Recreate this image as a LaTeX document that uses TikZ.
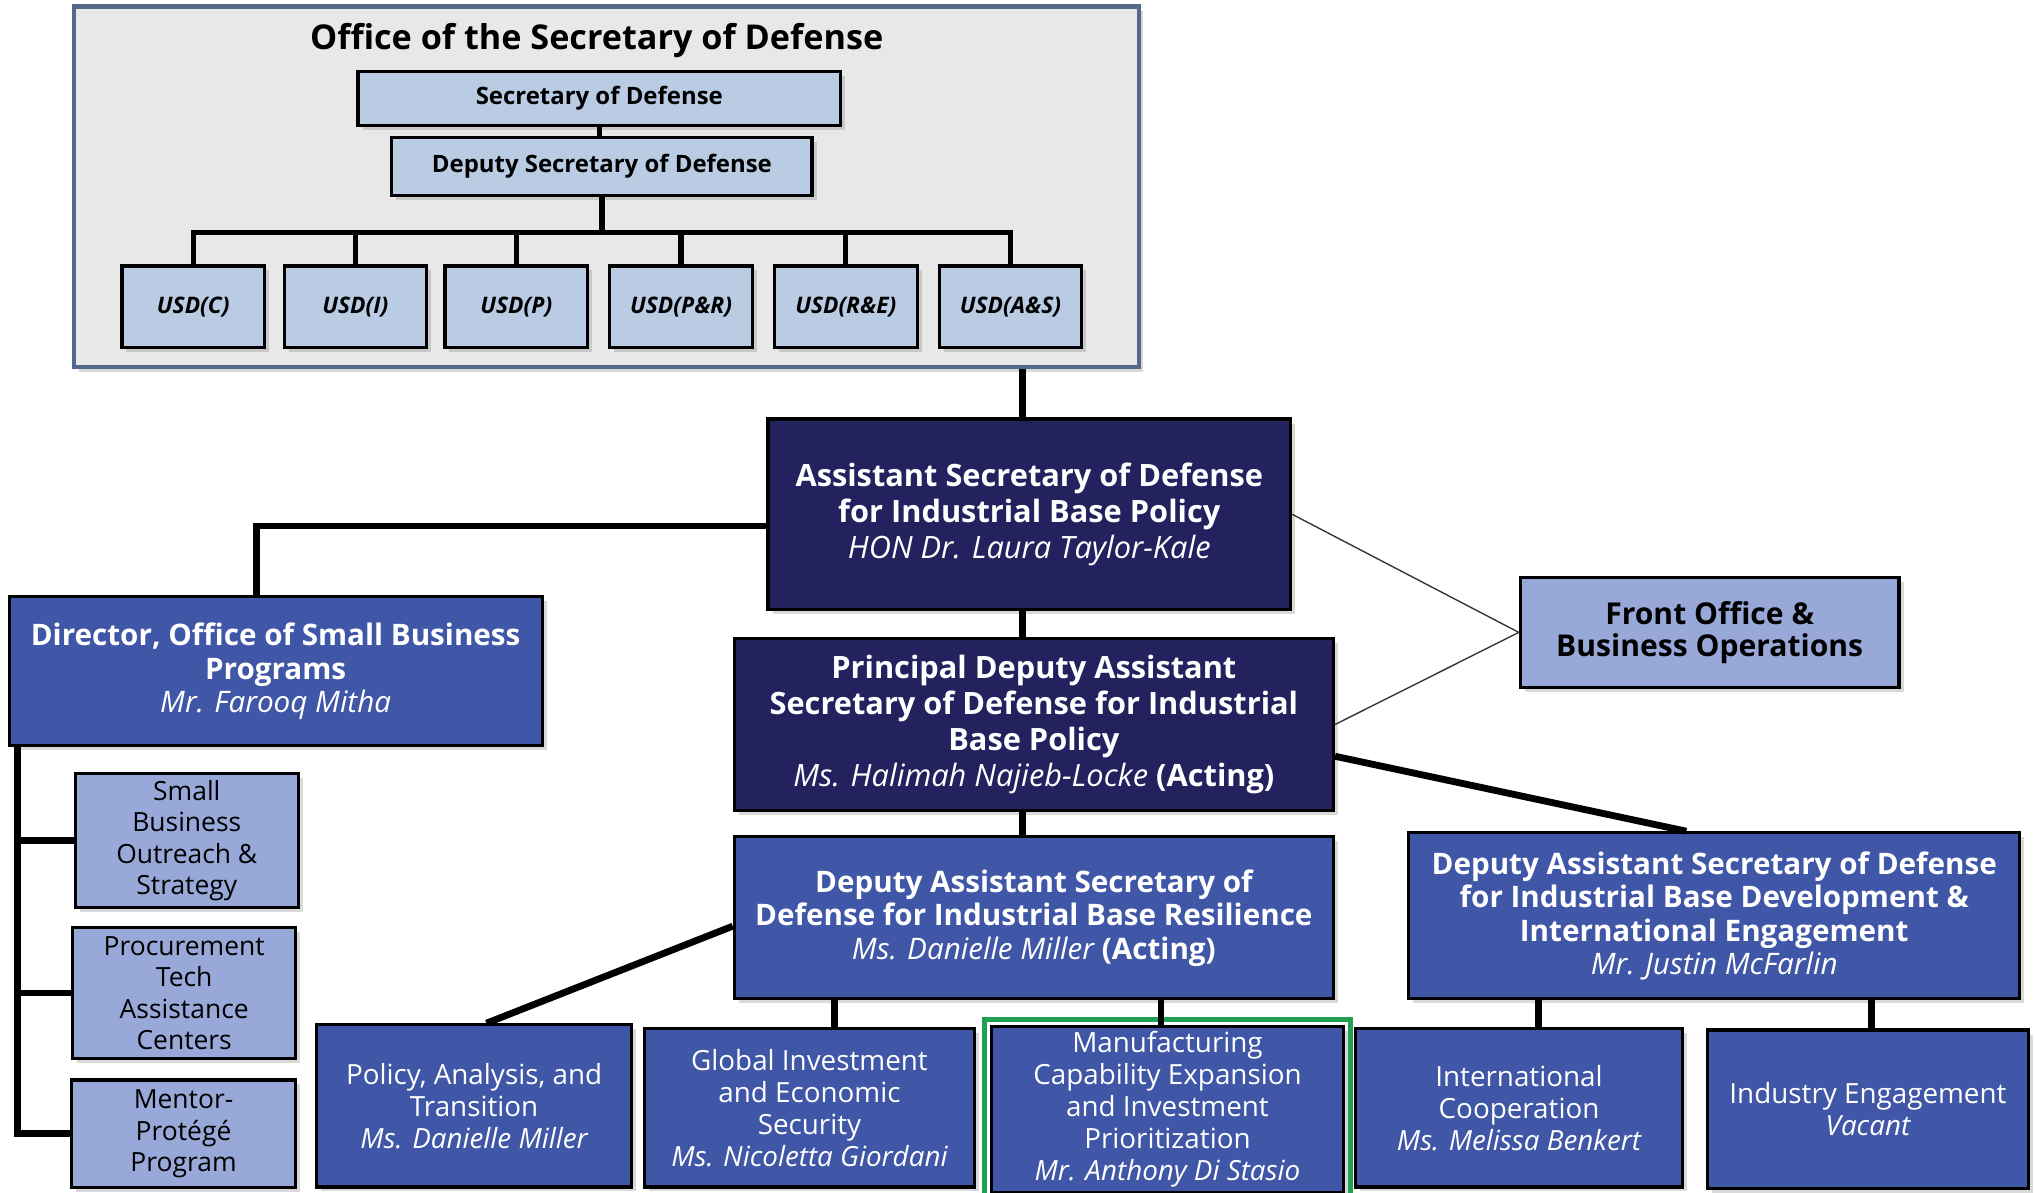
\documentclass[tikz,border=0pt]{standalone}
\usepackage{fontspec}
\setmainfont{Open Sans}
\usetikzlibrary{%
  positioning
 ,calc
 ,shadows
}
\definecolor{navy}{RGB}{35,33,94}
\definecolor{midblue}{RGB}{64,86,166}
\definecolor{liteblue}{RGB}{152,168,216}
\definecolor{paleblue}{RGB}{186,204,228}
\definecolor{osdgrey}{RGB}{232,232,232}
\definecolor{osdedge}{RGB}{84,104,140}
\definecolor{mfggreen}{RGB}{32,160,84}
\tikzstyle{bx}=[rectangle,draw=black,line width=1.4pt,align=center,inner sep=0pt,
  drop shadow={shadow xshift=0.07cm,shadow yshift=-0.07cm,opacity=0.3}]
\tikzstyle{osdframe}=[rectangle,fill=osdgrey,draw=osdedge,line width=2pt,
  drop shadow={shadow xshift=0.07cm,shadow yshift=-0.07cm,opacity=0.3}]
\tikzstyle{sbx}=[bx,fill=paleblue,font=\bfseries\fontsize{10.5}{12}\selectfont]
\tikzstyle{ubx}=[bx,fill=paleblue,minimum width=2.2cm,minimum height=1.26cm,
  font=\bfseries\itshape\fontsize{10}{11}\selectfont]
\tikzstyle{dk}=[bx,fill=navy,text=white,font=\bfseries\fontsize{13.5}{15.8}\selectfont]
\tikzstyle{md}=[bx,fill=midblue,text=white,font=\bfseries\fontsize{13}{14.7}\selectfont]
\tikzstyle{unit}=[bx,fill=midblue,text=white,font=\fontsize{12.2}{14}\selectfont]
\tikzstyle{lt}=[bx,fill=liteblue,text=black,font=\fontsize{11.6}{13.8}\selectfont]
\tikzstyle{con}=[draw=black,line width=2.3pt,line cap=rect]
\tikzstyle{mc}=[draw=black,line width=3pt]
\tikzstyle{fine}=[draw=black!80,line width=0.6pt]
\tikzstyle{hilite}=[draw=mfggreen,line width=2.2pt]
\newcommand{\nm}[1]{{\mdseries\itshape #1}}

\begin{document}
\begin{tikzpicture}[x=0.02cm,y=-0.02cm]
  \useasboundingbox (0,0) rectangle (1568,919);
  % office of the secretary
  \node[osdframe,minimum width=16.42cm,minimum height=5.56cm] (osd) at (467.5,144) {};
  \node[font=\bfseries\fontsize{15}{17}\selectfont] (osd_t) at (460,31) {Office of the Secretary of Defense};
  \node[sbx,minimum width=7.44cm,minimum height=0.84cm] (sec) at (462,76) {Secretary of Defense};
  \node[sbx,minimum width=6.48cm,minimum height=0.9cm] (dep) at (464,128.5) {Deputy Secretary of Defense};
  \node[ubx] (u_c) at (149,236.5) {USD(C)};
  \node[ubx] (u_i) at (274,236.5) {USD(I)};
  \node[ubx] (u_p) at (398,236.5) {USD(P)};
  \node[ubx] (u_pr) at (525,236.5) {USD(P\&R)};
  \node[ubx] (u_re) at (652,236.5) {USD(R\&E)};
  \node[ubx] (u_as) at (779,236.5) {USD(A\&S)};
  \draw[con] (sec.south) -- (sec.south |- dep.north);
  \draw[con] (dep.south) -- ++(0,27) coordinate (bus);
  \draw[con] (bus -| u_c.north) -- (bus -| u_as.north);
  \foreach \u in {u_c,u_i,u_p,u_pr,u_re,u_as}
    \draw[con] (\u.north) -- (\u.north |- bus);

  % industrial base policy
  \node[dk,minimum width=8.06cm,minimum height=2.94cm] (asd) at (793.5,396.5)
    {Assistant Secretary of Defense\\for Industrial Base Policy\\\nm{HON Dr. Laura Taylor-Kale}};
  \node[dk,minimum width=9.24cm,minimum height=2.66cm] (pdasd) at (797,558.5)
    {Principal Deputy Assistant\\Secretary of Defense for Industrial\\Base Policy\\\nm{Ms. Halimah Najieb-Locke} (Acting)};
  \node[lt,font=\bfseries\fontsize{13.2}{14.2}\selectfont,minimum width=5.84cm,minimum height=1.7cm] (fo) at (1318,487.5)
    {Front Office \&\\Business Operations};
  \node[md,minimum width=8.22cm,minimum height=2.3cm] (dir) at (212.5,517.5)
    {Director, Office of Small Business\\Programs\\\nm{Mr. Farooq Mitha}};
  \node[lt,minimum width=3.44cm,minimum height=2.06cm] (sb_1) at (144,648) {Small\\Business\\Outreach \&\\Strategy};
  \node[lt,minimum width=3.44cm,minimum height=2.02cm] (sb_2) at (142,765.5) {Procurement\\Tech\\Assistance\\Centers};
  \node[lt,minimum width=3.46cm,minimum height=1.66cm] (sb_3) at (141.5,874) {Mentor-\\Protégé\\Program};
  \node[md,minimum width=9.24cm,minimum height=2.5cm] (ibr) at (797,707.5)
    {Deputy Assistant Secretary of\\Defense for Industrial Base Resilience\\\nm{Ms. Danielle Miller} (Acting)};
  \node[md,minimum width=9.42cm,minimum height=2.56cm] (ibd) at (1321.5,706)
    {Deputy Assistant Secretary of Defense\\for Industrial Base Development \&\\International Engagement\\\nm{Mr. Justin McFarlin}};
  \node[unit,minimum width=4.86cm,minimum height=2.5cm] (pol) at (365.5,852.5)
    {Policy, Analysis, and\\Transition\\\nm{Ms. Danielle Miller}};
  \node[unit,minimum width=5.08cm,minimum height=2.44cm] (glob) at (624,854)
    {Global Investment\\and Economic\\Security\\\nm{Ms. Nicoletta Giordani}};
  \node[unit,minimum width=5.44cm,minimum height=2.56cm] (mfg) at (900,855)
    {Manufacturing\\Capability Expansion\\and Investment\\Prioritization\\\nm{Mr. Anthony Di Stasio}};
  \draw[hilite] ([shift={(-4,-4)}]mfg.north west) rectangle ([shift={(4,4)}]mfg.south east);
  \node[unit,minimum width=5.04cm,minimum height=2.44cm] (intl) at (1171,854)
    {International\\Cooperation\\\nm{Ms. Melissa Benkert}};
  \node[unit,minimum width=4.96cm,minimum height=2.44cm] (ind) at (1440,855)
    {Industry Engagement\\\nm{Vacant}};

  \coordinate (trunk) at (788,300);
  \draw[mc] (trunk |- osd.south) -- (trunk |- asd.north);
  \draw[mc] (trunk |- asd.south) -- (trunk |- pdasd.north);
  \draw[mc] (trunk |- pdasd.south) -- (trunk |- ibr.north);
  \draw[fine] (asd.east) -- (fo.west);
  \draw[fine] (pdasd.east) -- (fo.west);
  \draw[mc] ([yshift=-0.18cm]asd.west) -| ([xshift=-0.29cm]dir.north);
  \draw[mc] ([xshift=0.16cm]dir.south west) |- (sb_1.west);
  \draw[mc] ([xshift=0.16cm]dir.south west) |- (sb_2.west);
  \draw[mc] ([xshift=0.16cm]dir.south west) |- (sb_3.west);
  \draw[mc] ([yshift=-0.49cm]pdasd.east) -- ([xshift=-0.43cm]ibd.north);
  \draw[mc] ([yshift=-0.13cm]ibr.west) -- ([xshift=0.19cm]pol.north);
  \draw[mc] ([xshift=0.38cm]glob.north) -- ([xshift=0.38cm]glob.north |- ibr.south);
  \draw[mc] ([xshift=-0.1cm]mfg.north) -- ([xshift=-0.1cm]mfg.north |- ibr.south);
  \draw[mc] ([xshift=0.3cm]intl.north) -- ([xshift=0.3cm]intl.north |- ibd.south);
  \draw[mc] ([xshift=0.06cm]ind.north) -- ([xshift=0.06cm]ind.north |- ibd.south);
\end{tikzpicture}
\end{document}
